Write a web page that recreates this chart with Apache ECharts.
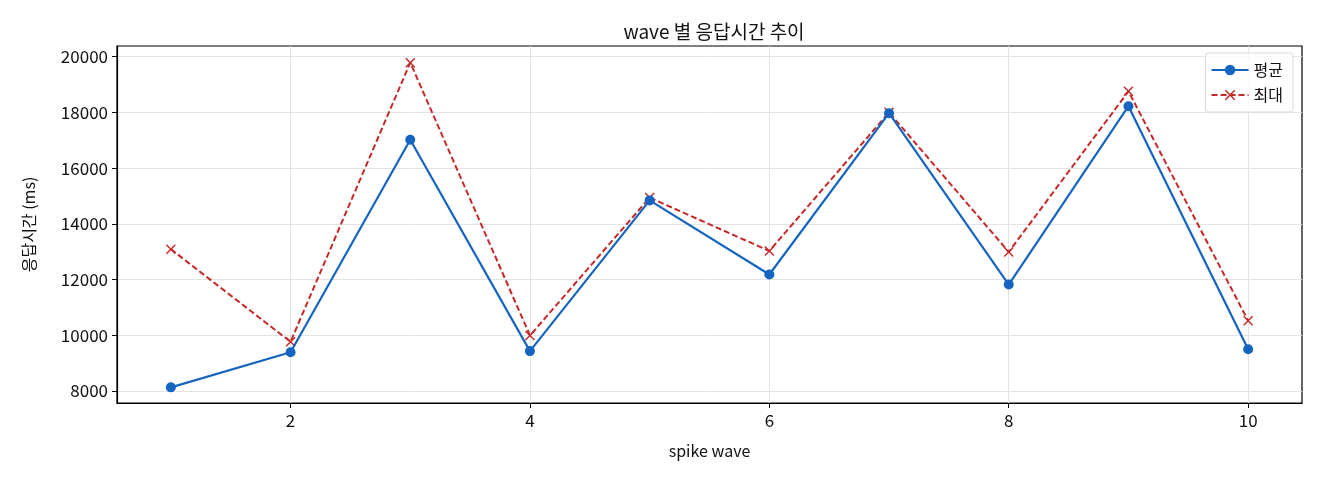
<!DOCTYPE html>
<html>
<head>
<meta charset="utf-8">
<script src="https://cdn.jsdelivr.net/npm/echarts@6/dist/echarts.min.js"></script>
<style>
  html, body { margin: 0; padding: 0; background: #fff; }
  #chart { width: 1320px; height: 480px; }
</style>
</head>
<body>
<div id="chart"></div>
<script>
var waves = [1, 2, 3, 4, 5, 6, 7, 8, 9, 10];
var avgMs = [8130, 9390, 17015, 9430, 14840, 12180, 17970, 11820, 18220, 9495];
var maxMs = [13090, 9765, 19785, 9990, 14940, 13025, 18000, 12990, 18755, 10520];
var xTicks = [2, 4, 6, 8, 10];
var yTicks = [8000, 10000, 12000, 14000, 16000, 18000, 20000];

(function () {
  'use strict';
  var FONT = '"Noto Sans CJK KR", "Noto Sans", sans-serif';
  var chart = echarts.init(document.getElementById('chart'), null, { renderer: 'canvas' });

  function pairs(vals) {
    return waves.map(function (w, i) { return [w, vals[i]]; });
  }

  var xMark = 'path://M1,0 L5,4 L9,0 L10,1 L6,5 L10,9 L9,10 L5,6 L1,10 L0,9 L4,5 L0,1 Z';

  var option = {
    animation: false,
    backgroundColor: '#fff',
    textStyle: { fontFamily: FONT },
    title: {
      text: 'wave 별 응답시간 추이',
      left: 709, top: 17, textAlign: 'center',
      textStyle: { fontFamily: FONT, fontSize: 19, fontWeight: 'normal', color: '#111' }
    },
    legend: {
      orient: 'vertical',
      right: 27, top: 53,
      padding: [9, 10, 9, 5],
      itemWidth: 37, itemHeight: 13, itemGap: 9,
      borderColor: '#d9d9d9', borderWidth: 1, borderRadius: 3,
      backgroundColor: 'rgba(255,255,255,0.8)',
      textStyle: { fontFamily: FONT, fontSize: 16, color: '#111' },
      data: ['평균', '최대']
    },
    grid: {
      left: 117, right: 18, top: 46, bottom: 77,
      show: true, borderColor: '#000', borderWidth: 1.2, backgroundColor: 'transparent'
    },
    xAxis: {
      type: 'value',
      min: 0.55, max: 10.45,
      name: 'spike wave', nameLocation: 'middle', nameGap: 40,
      nameTextStyle: { fontFamily: FONT, fontSize: 16, color: '#111' },
      axisLine: { show: true, lineStyle: { color: '#000', width: 1.2 } },
      axisTick: { show: true, length: 5, lineStyle: { color: '#000' }, customValues: xTicks },
      axisLabel: { fontFamily: FONT, fontSize: 17, color: '#111', margin: 9, customValues: xTicks },
      splitLine: { show: true, lineStyle: { color: '#e3e3e3', width: 1 } }
    },
    yAxis: {
      type: 'value',
      min: 7568, max: 20382,
      name: '응답시간 (ms)', nameLocation: 'middle', nameGap: 80, nameRotate: 90,
      nameTextStyle: { fontFamily: FONT, fontSize: 16, color: '#111' },
      axisLine: { show: true, lineStyle: { color: '#000', width: 1.2 } },
      axisTick: { show: true, length: 5, lineStyle: { color: '#000' }, customValues: yTicks },
      axisLabel: {
        fontFamily: FONT, fontSize: 17, color: '#111', margin: 9, customValues: yTicks,
        formatter: function (v) { return String(v); }
      },
      splitLine: { show: true, lineStyle: { color: '#e3e3e3', width: 1 } }
    },
    series: [
      {
        name: '평균', type: 'line',
        data: pairs(avgMs),
        symbol: 'circle', symbolSize: 10,
        lineStyle: { color: '#1565c0', width: 2.2 },
        itemStyle: { color: '#1565c0' },
        z: 3
      },
      {
        name: '최대', type: 'line',
        data: pairs(maxMs),
        symbol: xMark, symbolSize: 10,
        lineStyle: { color: '#c62828', width: 2, type: [6, 3] },
        itemStyle: { color: '#c62828' },
        z: 2
      }
    ]
  };

  chart.setOption(option);
  window.addEventListener('resize', function () { chart.resize(); });
})();
</script>
</body>
</html>
